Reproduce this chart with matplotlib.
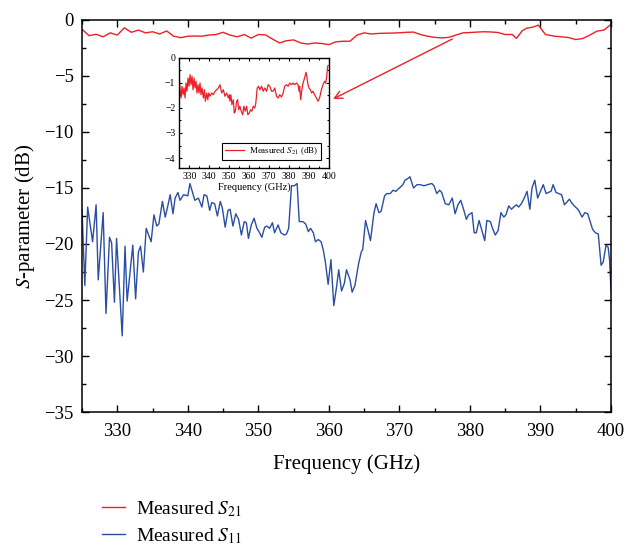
import matplotlib
matplotlib.use('Agg')
import matplotlib.pyplot as plt
from matplotlib.ticker import MultipleLocator

plt.rcParams['font.family'] = ['Liberation Serif', 'DejaVu Serif']
plt.rcParams['mathtext.fontset'] = 'stix'

# Measured S21, main axes (GHz, dB)
s21_freq = [325, 326, 327, 328, 329, 330, 331, 332, 333, 334, 335, 336, 337, 338, 339,
            340, 341, 342, 343, 344, 345, 346, 347, 348, 349, 350, 351, 352, 353, 354,
            355, 356, 357, 358, 359, 360, 361, 362, 363, 364, 365, 366, 367, 368, 369,
            370, 371, 372, 373, 374, 375, 376, 377, 378, 379, 380, 381, 382, 383, 384,
            385, 386, 386.6, 387.4, 388, 389, 389.7, 390.7, 392, 393, 394, 395, 396, 397,
            398, 399, 400]
s21_db = [-0.83, -1.40, -1.28, -1.50, -1.15, -1.35, -0.70, -1.10, -0.90, -1.15, -1.05, -1.25,
          -0.98, -1.45, -1.58, -1.45, -1.43, -1.45, -1.34, -1.30, -1.10, -1.35, -1.50, -1.30,
          -1.62, -1.30, -1.33, -1.70, -2.05, -1.85, -1.78, -2.05, -2.15, -2.05, -2.10, -2.20,
          -1.95, -1.90, -1.90, -1.35, -1.15, -1.25, -1.20, -1.18, -1.17, -1.14, -1.10, -1.08,
          -1.30, -1.45, -1.55, -1.60, -1.55, -1.35, -1.15, -1.12, -1.08, -1.05, -1.07, -1.12,
          -1.30, -1.29, -1.64, -0.97, -0.75, -0.62, -0.46, -1.29, -1.45, -1.50, -1.57, -1.75,
          -1.65, -1.35, -1.00, -0.90, -0.40]

# Measured S11, main axes
s11_freq = [325.0, 325.4, 325.8, 326.5, 327.0, 327.3, 328.0, 328.4, 328.9, 329.2, 329.6, 329.9,
            330.7, 331.1, 331.4, 332.2, 332.6, 333.0, 333.3, 333.7, 334.1, 334.8, 335.2, 335.6,
            335.9, 336.4, 336.8, 337.2, 337.5, 337.9, 338.2, 338.6, 338.9, 339.4, 340.0, 340.3,
            341.0, 341.5, 342.0, 342.3, 342.7, 343.1, 343.4, 343.8, 344.2, 344.6, 344.9, 345.3,
            345.7, 346.0, 346.4, 346.8, 347.2, 347.6, 348.0, 348.3, 348.6, 349.0, 349.4, 349.8,
            350.1, 350.5, 350.9, 351.2, 351.6, 352.0, 352.3, 352.8, 353.2, 353.7, 354.0, 354.3,
            354.7, 355.1, 355.5, 355.8, 356.3, 356.7, 357.1, 357.4, 357.8, 358.1, 358.5, 358.9,
            359.2, 359.5, 359.9, 360.3, 360.7, 361.1, 361.4, 361.8, 362.2, 362.5, 363.0, 363.3,
            363.7, 364.2, 364.6, 364.8, 365.2, 365.6, 365.9, 366.4, 366.7, 367.1, 367.4, 367.9,
            368.2, 368.7, 369.1, 369.5, 370.0, 370.5, 370.8, 371.1, 371.5, 372.0, 372.5, 372.9,
            373.5, 374.0, 374.6, 374.9, 375.3, 375.7, 376.0, 376.5, 377.0, 377.5, 377.9, 378.3,
            378.7, 379.1, 379.5, 379.8, 380.3, 380.6, 380.9, 381.3, 381.7, 382.1, 382.4, 382.9,
            383.2, 383.6, 384.0, 384.4, 384.8, 385.1, 385.5, 385.9, 386.2, 386.6, 386.9, 387.3,
            387.7, 388.1, 388.5, 388.8, 389.2, 389.6, 390.0, 390.4, 390.8, 391.1, 391.5, 391.8,
            392.2, 392.6, 393.0, 393.4, 393.7, 394.1, 394.4, 394.8, 395.3, 395.5, 395.9, 396.3,
            396.7, 397.1, 397.4, 397.8, 398.2, 398.6, 398.9, 399.3, 399.6, 399.8, 400.0]
s11_db = [-16.9, -23.7, -16.7, -19.8, -16.5, -23.2, -17.2, -26.2, -19.4, -19.9, -25.2, -19.5,
          -28.2, -20.2, -25.1, -20.1, -24.9, -20.7, -20.2, -22.5, -18.6, -19.8, -17.4, -18.4,
          -18.2, -16.2, -17.6, -16.5, -15.6, -17.3, -15.9, -15.4, -16.1, -15.6, -15.7, -14.6,
          -16.1, -15.9, -16.7, -15.6, -15.7, -17.0, -16.3, -16.4, -17.5, -16.2, -16.8, -18.5,
          -17.0, -16.9, -18.4, -17.3, -17.8, -19.2, -18.0, -18.1, -19.5, -18.3, -17.7, -18.6,
          -18.9, -19.4, -18.5, -18.4, -18.6, -18.1, -19.0, -18.3, -19.0, -19.2, -19.1, -18.6,
          -14.8, -14.8, -14.6, -18.0, -18.0, -18.2, -18.9, -18.6, -19.0, -19.8, -19.6, -19.8,
          -20.5, -21.6, -23.6, -21.4, -25.5, -23.8, -22.3, -24.2, -23.5, -22.3, -23.2, -24.3,
          -23.7, -21.8, -20.7, -20.5, -17.9, -18.9, -19.7, -17.2, -16.4, -17.2, -17.1, -15.7,
          -15.5, -15.5, -15.2, -15.3, -15.0, -14.7, -14.3, -14.2, -14.0, -15.0, -14.7, -14.7,
          -14.8, -14.7, -14.6, -14.8, -15.5, -15.2, -15.4, -16.4, -16.5, -15.9, -17.3, -16.5,
          -16.1, -16.9, -17.8, -17.4, -17.2, -19.0, -19.0, -17.9, -18.8, -19.7, -17.9, -18.0,
          -18.6, -19.2, -18.8, -17.2, -17.6, -17.4, -16.6, -16.9, -16.7, -16.5, -16.7, -16.4,
          -15.9, -15.3, -16.9, -15.0, -14.3, -15.9, -15.3, -14.7, -15.5, -15.4, -15.3, -14.7,
          -15.4, -15.5, -15.6, -16.5, -16.3, -16.0, -16.3, -16.6, -16.9, -17.1, -17.6, -17.2,
          -17.3, -18.1, -18.7, -19.0, -19.1, -21.9, -21.6, -20.1, -20.3, -21.4, -24.1]

# Measured S21, inset (denser trace)
inset_freq = [325.0, 325.3, 325.8, 326.3, 326.8, 327.3, 327.8, 328.3, 328.8, 329.3, 329.8, 330.3,
              330.8, 331.3, 331.8, 332.3, 332.8, 333.3, 333.8, 334.3, 334.8, 335.3, 335.8, 336.3,
              337.0, 337.5, 338.0, 338.7, 339.2, 339.7, 340.3, 341.2, 342.0, 342.8, 343.7, 344.5,
              345.3, 346.2, 347.0, 347.8, 348.7, 349.5, 350.0, 350.3, 350.8, 351.3, 352.0, 352.5,
              353.0, 353.7, 354.2, 354.7, 355.3, 356.0, 356.7, 357.3, 358.0, 358.7, 359.3, 360.0,
              360.7, 361.3, 362.0, 362.8, 363.3, 364.0, 364.7, 365.3, 366.2, 367.0, 367.8, 368.7,
              369.5, 370.3, 371.2, 372.0, 372.8, 373.7, 374.5, 375.3, 376.2, 377.0, 377.8, 378.7,
              379.5, 380.3, 381.2, 382.0, 382.8, 383.7, 384.5, 385.0, 385.3, 385.8, 386.3, 387.0,
              387.5, 388.0, 388.5, 389.0, 389.5, 390.0, 390.7, 391.3, 392.0, 392.8, 393.7, 394.5,
              395.3, 396.2, 397.0, 397.8, 398.3, 398.8, 399.3, 399.6]
inset_db = [-0.87, -1.27, -1.60, -1.13, -1.47, -1.20, -1.60, -1.00, -1.33, -0.80, -1.13, -0.67,
            -1.07, -0.73, -1.27, -0.80, -1.20, -0.93, -1.40, -1.07, -1.40, -1.00, -1.47, -1.20,
            -1.60, -1.27, -1.73, -1.40, -1.67, -1.40, -1.53, -1.40, -1.47, -1.33, -1.27, -1.20,
            -1.07, -1.40, -1.27, -1.53, -1.40, -1.60, -1.47, -1.73, -1.47, -1.87, -1.67, -2.20,
            -2.13, -1.73, -1.67, -2.07, -1.93, -2.13, -2.27, -1.93, -2.13, -1.93, -2.27, -2.20,
            -2.07, -2.13, -1.93, -2.00, -1.80, -1.20, -1.13, -1.27, -1.13, -1.33, -1.20, -1.33,
            -1.07, -1.13, -1.33, -1.33, -1.20, -1.53, -1.60, -1.47, -1.56, -1.40, -1.13, -1.07,
            -1.13, -1.00, -1.07, -1.00, -1.07, -1.00, -1.07, -1.33, -1.13, -1.67, -1.33, -1.00,
            -0.87, -0.73, -0.57, -0.80, -1.07, -1.20, -1.27, -1.40, -1.33, -1.47, -1.60, -1.73,
            -1.60, -1.27, -1.07, -0.93, -1.00, -0.80, -0.35, -0.30]

red = '#ec2027'
blue = '#2a4ea3'

fig = plt.figure(figsize=(6.26, 5.46), dpi=100)
ax = fig.add_axes([0.131, 0.2454, 0.845, 0.718])

l21, = ax.plot(s21_freq, s21_db, color=red, lw=1.0, label='Measured $S_{21}$')
l11, = ax.plot(s11_freq, s11_db, color=blue, lw=1.0, label='Measured $S_{11}$')

ax.set_xlim(325, 400)
ax.set_ylim(-35, 0)
ax.xaxis.set_major_locator(MultipleLocator(10))
ax.xaxis.set_minor_locator(MultipleLocator(5))
ax.yaxis.set_major_locator(MultipleLocator(5))
ax.yaxis.set_minor_locator(MultipleLocator(2.5))
ax.tick_params(which='both', direction='in', top=True, right=True, labelsize=13.5)
ax.tick_params(axis='x', which='major', pad=8)
ax.tick_params(axis='y', which='major', pad=6)
ax.tick_params(which='major', length=5, width=1.0)
ax.tick_params(which='minor', length=3, width=1.0)
for sp in ax.spines.values():
    sp.set_linewidth(1.1)
ax.set_xlabel('Frequency (GHz)', fontsize=15, labelpad=10)
ax.set_ylabel('$S$-parameter (dB)', fontsize=15, labelpad=5)

# arrow from main S21 trace to the inset
ax.annotate('', xy=(360.6, -7.05), xytext=(377.5, -1.7),
            arrowprops=dict(arrowstyle='->', color=red, lw=1.0,
                            mutation_scale=14, shrinkA=0, shrinkB=0))

# inset
ins = fig.add_axes([0.2867, 0.6923, 0.2388, 0.2015])
ins.plot(inset_freq, inset_db, color=red, lw=0.9, label='Measured $S_{21}$ (dB)')
ins.set_xlim(325, 400)
ins.set_ylim(-4.4, 0)
ins.xaxis.set_major_locator(MultipleLocator(10))
ins.xaxis.set_minor_locator(MultipleLocator(5))
ins.yaxis.set_major_locator(MultipleLocator(1))
ins.yaxis.set_minor_locator(MultipleLocator(0.5))
ins.tick_params(which='both', direction='in', top=True, right=True, labelsize=7, pad=3)
ins.tick_params(which='major', length=2.2, width=0.8)
ins.tick_params(which='minor', length=1.3, width=0.8)
for sp in ins.spines.values():
    sp.set_linewidth(1.0)
ins.set_xlabel('Frequency (GHz)', fontsize=7.5, labelpad=1)
leg_in = ins.legend(loc='lower right', fontsize=6.5, frameon=True, fancybox=False,
                    edgecolor='black', framealpha=1, handlelength=2.2, borderpad=0.3,
                    borderaxespad=0.9, handletextpad=0.5)
leg_in.get_frame().set_linewidth(0.8)

fig.legend(handles=[l21, l11], loc='upper left', bbox_to_anchor=(0.15, 0.10),
           frameon=False, fontsize=14, handlelength=1.2, handletextpad=0.55,
           labelspacing=0.38, borderaxespad=0)

fig.savefig('out.png', dpi=100)
